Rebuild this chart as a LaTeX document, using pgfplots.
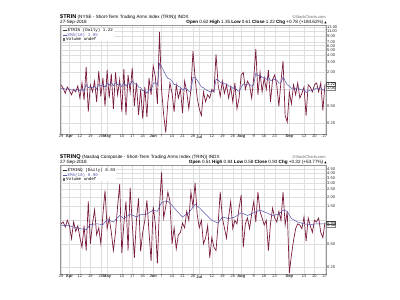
\documentclass[border=0pt]{standalone}
\usepackage{pgfplots}
\pgfplotsset{compat=1.18}
\usepackage{pgfplotstable}
\usepackage{fontspec}
\setmainfont{Liberation Sans}
\newfontfamily\monof{Liberation Mono}
\newfontfamily\dejavu{DejaVu Sans}
\definecolor{trinc}{RGB}{122,28,64}
\definecolor{emac}{RGB}{85,85,170}
\definecolor{gridc}{RGB}{222,222,222}
\definecolor{framec}{RGB}{150,150,150}
\newcommand{\fs}{\fontsize{4}{4.6}\selectfont}
\newcommand{\fh}{\fontsize{4.6}{5.2}\selectfont}
\newcommand{\fl}{\monof\fontsize{4.2}{4.6}\selectfont}

\pgfplotstableread{
x y e
0 1.20 1.036
1 1.05 1.039
2 0.85 1.005
3 1.10 1.022
4 0.95 1.009
5 0.80 0.971
6 1.00 0.976
7 0.90 0.962
8 1.15 0.996
9 0.70 0.942
10 1.30 1.007
11 0.65 0.942
12 2.50 1.225
13 0.40 1.075
14 1.20 1.098
15 0.90 1.062
16 1.40 1.123
17 0.60 1.028
18 2.10 1.223
19 0.75 1.137
20 1.60 1.221
21 0.50 1.090
22 2.20 1.292
23 0.70 1.184
24 1.90 1.314
25 0.45 1.157
26 2.00 1.310
27 0.80 1.217
28 1.50 1.268
29 0.40 1.110
30 2.30 1.326
31 0.35 1.149
32 1.80 1.267
33 0.90 1.200
34 2.40 1.418
35 0.50 1.251
36 1.30 1.260
37 0.35 1.095
38 1.00 1.078
39 0.30 0.937
40 1.10 0.967
41 0.32 0.849
42 1.60 0.986
43 0.80 0.952
44 2.60 1.252
45 1.70 1.333
46 0.55 1.191
47 10.50 2.883
48 1.00 2.541
49 0.35 2.143
50 0.17 1.784
51 0.60 1.569
52 1.30 1.520
53 0.85 1.398
54 0.40 1.217
55 1.20 1.214
56 0.70 1.121
57 1.00 1.099
58 0.38 0.968
59 1.40 1.047
60 0.90 1.020
61 0.45 0.916
62 1.00 0.931
63 4.80 1.634
64 1.60 1.628
65 0.70 1.459
66 0.45 1.276
67 0.34 1.106
68 0.90 1.069
69 0.60 0.984
70 0.80 0.951
71 0.70 0.905
72 1.00 0.922
73 0.90 0.918
74 4.20 1.515
75 1.20 1.458
76 0.75 1.329
77 1.40 1.342
78 0.85 1.253
79 1.20 1.243
80 0.70 1.144
81 1.10 1.136
82 0.60 1.039
83 1.30 1.086
84 0.45 0.970
85 0.70 0.921
86 1.80 1.081
87 2.00 1.248
88 1.00 1.203
89 1.40 1.239
90 1.20 1.232
91 0.70 1.135
92 1.60 1.220
93 5.20 1.944
94 0.80 1.736
95 2.00 1.784
96 0.90 1.623
97 1.60 1.619
98 1.00 1.506
99 2.20 1.632
100 0.60 1.444
101 1.50 1.454
102 1.80 1.517
103 1.20 1.459
104 0.50 1.285
105 1.40 1.306
106 3.20 1.650
107 0.34 1.412
108 0.26 1.203
109 0.90 1.148
110 0.55 1.039
111 1.20 1.068
112 0.80 1.019
113 1.30 1.070
114 0.70 1.003
115 0.85 0.975
116 1.10 0.998
117 0.34 0.878
118 1.20 0.937
119 1.10 0.967
120 0.90 0.955
121 1.20 1.000
122 1.30 1.055
123 0.90 1.027
124 1.30 1.077
125 0.42 0.958
126 1.22 1.006
}\toptab

\pgfplotstableread{
x y
0 0.90
1 0.95
2 0.82
3 1.00
4 0.85
5 0.58
6 0.95
7 0.72
8 0.85
9 0.60
10 0.45
11 0.85
12 0.41
13 1.74
14 0.50
15 0.90
16 1.36
17 0.65
18 0.80
19 0.50
20 1.20
21 2.40
22 0.78
23 1.07
24 0.70
25 0.41
26 0.70
27 1.50
28 2.90
29 0.38
30 0.90
31 1.74
32 0.41
33 2.60
34 0.90
35 0.33
36 1.00
37 1.90
38 0.40
39 0.70
40 1.00
41 1.80
42 0.70
43 0.30
44 1.50
45 0.90
46 0.28
47 1.50
48 4.10
49 1.07
50 1.50
51 2.30
52 1.74
53 0.50
54 0.80
55 0.43
56 0.65
57 0.70
58 0.92
59 0.80
60 1.30
61 1.00
62 2.30
63 1.50
64 3.00
65 1.19
66 0.80
67 1.00
68 0.50
69 0.59
70 0.85
71 0.33
72 0.60
73 0.45
74 0.41
75 0.90
76 2.30
77 1.07
78 0.80
79 0.59
80 1.10
81 1.74
82 0.78
83 1.00
84 0.90
85 1.43
86 2.10
87 0.45
88 0.90
89 1.07
90 0.78
91 1.20
92 1.74
93 0.95
94 2.30
95 1.30
96 1.07
97 0.87
98 1.00
99 0.41
100 0.90
101 1.43
102 1.07
103 0.95
104 1.30
105 1.00
106 2.30
107 0.87
108 1.30
109 0.21
110 0.36
111 0.55
112 0.78
113 0.90
114 0.87
115 0.78
116 1.10
117 0.54
118 1.07
119 0.85
120 0.70
121 1.00
122 0.95
123 1.07
124 0.70
125 0.60
126 0.93
}\bottab

\pgfplotstableread{
x e
0 0.85
3 0.86
6 0.82
9 0.78
12 0.76
14 0.88
17 0.90
20 0.88
22 1.02
25 0.95
28 1.15
30 1.05
33 1.20
36 1.10
38 1.18
41 1.20
44 1.35
46 1.30
48 1.70
51 1.75
53 1.55
56 1.25
58 1.10
61 1.25
64 1.60
66 1.45
69 1.20
72 1.00
75 0.92
77 1.10
80 1.05
83 1.10
86 1.25
89 1.15
92 1.25
95 1.35
98 1.25
101 1.15
104 1.20
106 1.35
108 1.30
110 1.05
113 0.95
116 0.90
119 0.88
122 0.90
126 0.90
}\botema

\pgfplotsset{stk/.style={
  scale only axis, width=266pt, height=109pt, anchor=south west,
  xmin=-0.5, xmax=126.5,
  axis line style={draw=framec, line width=0.4pt},
  grid=major, major grid style={draw=gridc, line width=0.3pt},
  major tick length=0pt, minor tick length=0pt,
  yticklabel pos=right,
  xtick={0,4,9,14,19,22,29,34,39,44,48,53,58,63,66,72,77,82,86,92,97,102,109,116,121,126},
  xticklabels={29,\textbf{Apr},12,19,26,\textbf{May},10,17,24,\textbf{Jun},7,14,21,28,\textbf{Jul},12,19,26,\textbf{Aug},9,16,23,\textbf{Sep},13,20,27},
  ticklabel style={font=\fs, text=black!85},
  xticklabel style={inner sep=1pt},
  yticklabel style={inner sep=1pt},
}}

\begin{document}
\begin{tikzpicture}
\path[use as bounding box] (0,0) rectangle (400pt,300pt);
% ---------- top panel ----------
\begin{semilogyaxis}[stk, at={(60pt,166pt)}, ymin=0.16, ymax=14,
  ytick={0.25,0.5,1,2,3,4,5,6,7,9,11,13},
  yticklabels={0.25,0.50,,2.00,3.00,4.00,5.00,6.00,7.00,9.00,11.00,13.00}]
\addplot[trinc, line width=0.7pt, no marks] table[x=x,y=y] {\toptab};
\addplot[emac, line width=0.5pt, no marks] table[x=x,y=e] {\toptab};
\coordinate (tA) at (axis cs:126.5,1.22);
\coordinate (tB) at (axis cs:126.5,1.05);
\coordinate (tL) at (axis description cs:0.008,0.975);
\end{semilogyaxis}
\node[anchor=north west, fill=white, inner sep=0.6pt, align=left, font=\fl] at (tL) {%
  \textcolor{black!80}{\rule[0.45ex]{4pt}{0.6pt}}\,\$TRIN (Daily) 1.22\\
  \textcolor{emac}{\rule[0.45ex]{4pt}{0.6pt}\,EMA(10) 1.05}\\
  \textcolor{black!60}{\rule{2.5pt}{2.5pt}}\,Volume undef};
\node[anchor=west, draw=black!50, fill=white, inner sep=0.5pt, font=\fs] at ([xshift=0.5pt]tB) {1.05};
\node[anchor=west, draw=black!70, fill=white, inner sep=0.5pt, font=\fs] at ([xshift=0.5pt]tA) {1.22};
\node[anchor=base west, inner sep=0pt, font=\fh] at (60pt,281.5pt) {{\fontsize{5.6}{6}\selectfont\textbf{\$TRIN}} (NYSE - Short-Term Trading Arms Index (TRIN)) INDX};
\node[anchor=base west, inner sep=0pt, font=\fh] at (60pt,276.3pt) {27-Sep-2018};
\node[anchor=base east, inner sep=0pt, font=\fs, text=black!60] at (326pt,281.5pt) {\copyright StockCharts.com};
\node[anchor=base east, inner sep=0pt, font=\fh] at (327pt,276.3pt) {\textbf{Open} 0.62 \textbf{High} 1.35 \textbf{Low} 0.61 \textbf{Close} 1.22 \textbf{Chg} +0.78 (+184.62\%) {\dejavu\fontsize{3}{3}\selectfont ▲}};
% ---------- bottom panel ----------
\begin{semilogyaxis}[stk, at={(60pt,26pt)}, ymin=0.205, ymax=5.1,
  ytick={0.25,0.5,1,1.5,2,2.5,3,3.5,4,4.5},
  yticklabels={0.25,0.50,,1.50,2.00,2.50,3.00,3.50,4.00,4.50}]
\addplot[trinc, line width=0.7pt, no marks] table[x=x,y=y] {\bottab};
\addplot[emac, line width=0.5pt, no marks] table[x=x,y=e] {\botema};
\coordinate (bA) at (axis cs:126.5,0.93);
\coordinate (bB) at (axis cs:126.5,0.86);
\coordinate (bL) at (axis description cs:0.008,0.975);
\end{semilogyaxis}
\node[anchor=north west, fill=white, inner sep=0.6pt, align=left, font=\fl] at (bL) {%
  \textcolor{black!80}{\rule[0.45ex]{4pt}{0.6pt}}\,\$TRINQ (Daily) 0.93\\
  \textcolor{emac}{\rule[0.45ex]{4pt}{0.6pt}\,EMA(10) 0.90}\\
  \textcolor{black!60}{\rule{2.5pt}{2.5pt}}\,Volume undef};
\node[anchor=west, draw=black!50, fill=white, inner sep=0.5pt, font=\fs] at ([xshift=0.5pt]bB) {0.90};
\node[anchor=west, draw=black!70, fill=white, inner sep=0.5pt, font=\fs] at ([xshift=0.5pt]bA) {0.93};
\node[anchor=base west, inner sep=0pt, font=\fh] at (60pt,141.5pt) {{\fontsize{5.6}{6}\selectfont\textbf{\$TRINQ}} (Nasdaq Composite - Short-Term Trading Arms Index (TRIN)) INDX};
\node[anchor=base west, inner sep=0pt, font=\fh] at (60pt,136.3pt) {27-Sep-2018};
\node[anchor=base east, inner sep=0pt, font=\fs, text=black!60] at (326pt,141.5pt) {\copyright StockCharts.com};
\node[anchor=base east, inner sep=0pt, font=\fh] at (327pt,136.3pt) {\textbf{Open} 0.51 \textbf{High} 0.84 \textbf{Low} 0.58 \textbf{Close} 0.93 \textbf{Chg} +0.32 (+53.77\%) {\dejavu\fontsize{3}{3}\selectfont ▲}};
\end{tikzpicture}
\end{document}
